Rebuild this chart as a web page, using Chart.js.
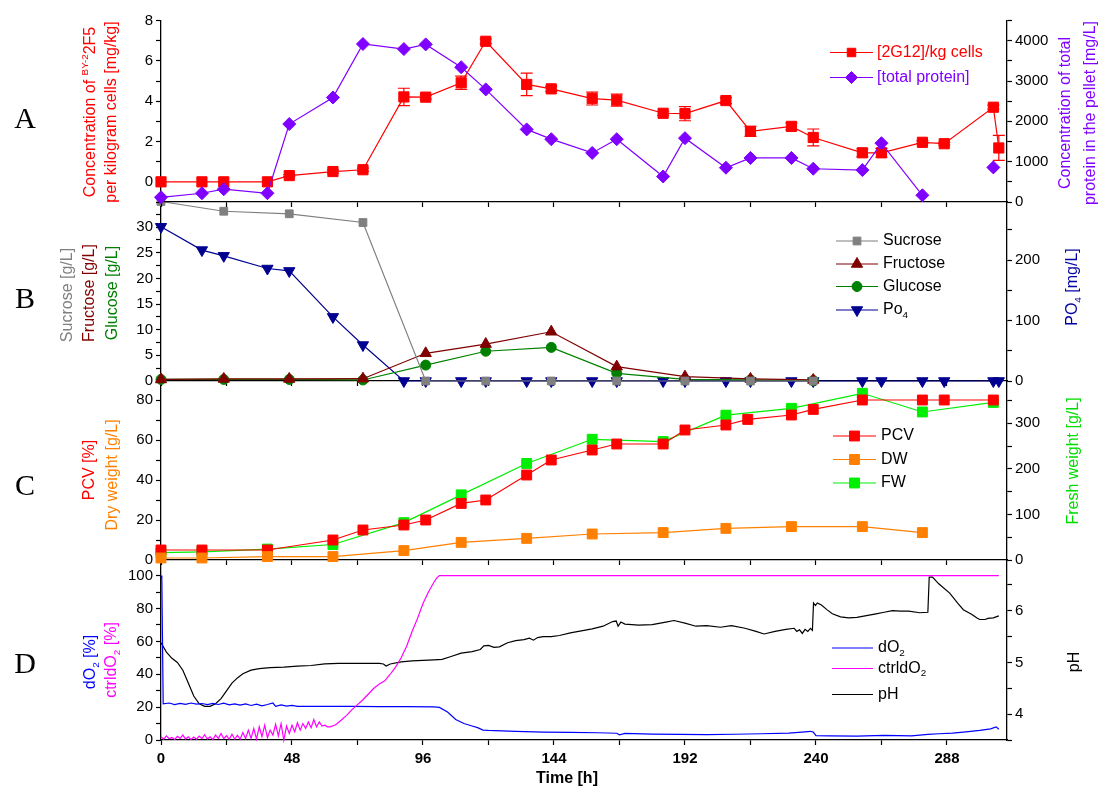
<!DOCTYPE html>
<html><head><meta charset="utf-8">
<script src="https://cdn.jsdelivr.net/npm/chart.js@4/dist/chart.umd.min.js"></script>
<style>
html,body{margin:0;padding:0;background:#fff;}
#wrap{position:relative;width:1101px;height:792px;overflow:hidden;}
#wrap canvas{position:absolute;left:0;top:0;}
</style></head><body>
<div id="wrap">
<canvas id="cD" width="1101" height="792"></canvas>
<canvas id="cC" width="1101" height="792"></canvas>
<canvas id="cB" width="1101" height="792"></canvas>
<canvas id="cA" width="1101" height="792"></canvas>
</div>
<script>
// ---------- Panel A data ----------
const tA = [0,15,23,39,47,63,74,89,97,110,119,134,143,158,167,184,192,207,216,231,239,257,264,279,287,305,307];
const g2f5 = [0,0,0,0,0.31,0.51,0.6,4.21,4.2,4.91,6.97,4.83,4.61,4.13,4.05,3.4,3.38,4.03,2.5,2.75,2.2,1.44,1.44,1.96,1.89,3.7,1.68];
const g2f5Err = [0,0,0,0,0.05,0.08,0.08,0.43,0.1,0.33,0.12,0.56,0.12,0.32,0.3,0.1,0.35,0.15,0.25,0.17,0.42,0.2,0.22,0.07,0.07,0.1,0.62];
const protein = [117,217,317,217,1933,2592,3917,3792,3908,3342,2792,1800,1558,1217,1558,633,1583,850,1092,1092,825,792,1458,167,null,858,null];
// ---------- Panel B data ----------
const tSugar = [0,23,47,74,97,119,143,167,192,216,239];
const sucrose = [35,33.1,32.6,30.9,0,0,0,0,0,0,0];
const fructose = [0.3,0.4,0.4,0.45,5.4,7.2,9.6,2.8,0.85,0.4,0.2];
const glucose = [0.3,0.3,0.3,0.2,3.1,5.8,6.55,1.5,0.3,0.2,0.1];
const tPO4 = [0,15,23,39,47,63,74,89,97,110,119,134,143,158,167,184,192,207,216,231,239,257,264,279,287,305,307];
const po4 = [255,216.5,207,186,182,106,59.5,0,0,0,0,0,0,0,0,0,0,0,0,0,0,0,0,0,0,0,0];
// ---------- Panel C data ----------
const tPCV = [0,15,39,63,74,89,97,110,119,134,143,158,167,184,192,207,215,231,239,257,279,287,305];
const pcv = [5,5,5,10,15,17.5,20,28.3,30,42.5,50,55,58,58,65,67.5,70.3,72.5,75.3,80,80,80,80];
const tDW = [0,15,39,63,89,110,134,158,184,207,231,257,279];
const dw = [1,1,1.7,1.7,4.7,8.8,10.8,13,13.7,15.8,16.7,16.7,13.7];
const tFW = [0,15,39,63,89,110,134,158,184,207,231,257,279,305];
const fw = [16,18,24,34,82,143,212,265,260,318,333,366,325,346];
// ---------- Panel D data ----------
const tDO2 = [0,0.3,0.8,3,5,7,9,11,13,15,17,19,21,23,25,27,29,31,33,35,37,39,41,42,44,46,48,50,55,60,70,80,90,100,102,105,108,111,114,116,118,120,130,140,150,160,167,168,170,180,190,200,210,220,230,236,238,239,240,245,255,265,275,281,285,290,295,300,304,306,307];
const dO2 = [100,98,22,22.5,21.5,22.3,21.7,22.5,21.8,22.2,21.5,22.3,21.6,22.4,21.4,22,21.2,22,21,21.8,20.8,21.6,22.5,20.5,21.3,20.6,21,20.5,20.4,20.5,20.4,20.3,20.3,20.2,19.8,17,12.5,10,8.5,7.5,6,5.8,5.2,4.8,4.6,4.4,4.1,3.2,4,3.6,3.4,3.3,3.5,3.8,4.2,5,5.3,4.8,2.7,2.5,2.4,2.8,2.5,3.4,3.8,4.2,5,5.8,6.8,8,6.5];
const tCtrl = [0,1,2,3,4,5,6,7,8,9,10,11,12,13,14,15,16,17,18,19,20,21,22,23,24,25,26,27,28,29,30,31,32,33,34,35,36,37,38,39,40,41,42,43,44,45,46,47,48,49,50,51,52,53,54,55,56,57,58,59,60,61,62,64,66,68,70,72,74,76,78,80,82,84,86,88,90,92,94,96,98,100,101,102,307];
const ctrlDO2 = [2,0.5,2.5,0.8,1.5,0.3,2.2,1,3,0.6,2,0.4,1.8,0.5,2.4,0.8,3.2,0.6,2,0.3,3,1,4,0.8,2.6,0.5,3.5,0.6,2.8,0.4,4.5,0.8,6,1,7,0.5,8,2,9,1.5,6,3,9.5,2.5,10,0,8.5,4,9,5,10.5,6,10,7,11,7.5,12.5,8,11,8.5,9,8,8,9.3,12,15,18.5,21.5,24.5,28,31.5,34,36,40,44.5,50,57,66,74,83,90,96,98.5,100,100];
const tPH = [0,2,4,6,8,10,12,14,16,18,20,22,24,26,28,30,33,36,40,45,50,55,60,65,70,75,80,81.5,82.5,84,88,92,96,100,103,106,110,114,117,118.3,120,122,124,127,130,133,135,136.5,138,140,143,146,150,154,158,162,165.5,166.8,167.5,168.5,170,175,180,185,188,192,196,200,205,209,214,218,221,225,229,232,233,234,235,236,237,238,238.7,239.1,239.8,240.5,242,244,246,249,252,255,258,262,265,268,271,274,278,281,281.5,282.7,285,289,292,294,297,299,300,302,303,305,307];
const pH = [5.38,5.2,5.08,5.0,4.85,4.6,4.35,4.2,4.15,4.15,4.2,4.3,4.45,4.6,4.7,4.78,4.85,4.88,4.9,4.91,4.93,4.94,4.97,4.98,4.98,4.98,4.98,4.97,4.93,4.97,5.01,5.03,5.04,5.05,5.06,5.11,5.18,5.21,5.25,5.32,5.33,5.29,5.3,5.38,5.42,5.44,5.47,5.43,5.48,5.5,5.5,5.52,5.57,5.61,5.65,5.7,5.79,5.8,5.7,5.78,5.74,5.72,5.73,5.78,5.81,5.76,5.7,5.71,5.68,5.71,5.66,5.6,5.55,5.6,5.64,5.66,5.6,5.63,5.56,5.64,5.6,5.66,5.62,6.15,6.1,6.15,6.11,6.02,5.94,5.88,5.86,5.87,5.9,5.94,5.97,6.0,5.99,5.99,5.96,5.97,6.65,6.65,6.52,6.34,6.14,6.02,5.93,5.86,5.83,5.83,5.85,5.86,5.9];
// ---------- Axis tick label values ----------
const xTickLabels = [0,48,96,144,192,240,288];

const FONT = "'Liberation Sans', Arial, sans-serif";
const SERIF = "'Liberation Serif', 'Times New Roman', serif";

function pts(t, v){ return t.map((x,i)=>({x:x, y:v[i]})); }

function yScale(pos, min, max, step, labelOk, width){
  return {type:'linear', position:pos, min:min, max:max,
    ticks:{stepSize:step, includeBounds:false, autoSkip:false, color:'#000', padding:3,
      font:{family:FONT, size:15}, callback:(v)=> labelOk(v) ? String(v) : ''},
    grid:{drawOnChartArea:false, drawTicks:true, tickLength:5, color:'#000', tickWidth:1.2},
    border:{display:true, color:'#000', width:1.3},
    afterFit:(s)=>{ s.width = width; }
  };
}
function xScale(showLabels, height){
  return {type:'linear', position:'bottom', min:0, max:310,
    ticks:{stepSize:24, includeBounds:false, autoSkip:false, display:showLabels, maxRotation:0, color:'#000', padding:5,
      font:{family:FONT, size:15, weight:'bold'}, callback:(v)=> xTickLabels.includes(v) ? String(v) : ''},
    grid:{drawOnChartArea:false, drawTicks:true, tickLength:5, color:'#000', tickWidth:1.2},
    border:{display:true, color:'#000', width:1.3},
    afterFit:(s)=>{ s.height = height; }
  };
}
function ds(label, data, color, axis, style, radius, extra){
  return Object.assign({label:label, data:data, yAxisID:axis, borderColor:color, backgroundColor:color,
    borderWidth:1.2, tension:0, fill:false, clip:false, spanGaps:false,
    pointStyle:style, pointRadius:radius, pointHoverRadius:radius, pointBackgroundColor:color,
    pointBorderColor:color, pointBorderWidth:1}, extra||{});
}

function drawRich(ctx, segs, cx, cy, rot, size, color){
  ctx.save();
  ctx.translate(cx, cy);
  ctx.rotate(rot);
  ctx.textBaseline = 'middle'; ctx.textAlign = 'left';
  const fnt = (s)=> ((s.sup||s.sub) ? (size*0.62).toFixed(1) : size) + 'px ' + (s.family||FONT);
  let total = 0;
  segs.forEach(s=>{ ctx.font = fnt(s); total += ctx.measureText(s.t).width; });
  let x = -total/2;
  segs.forEach(s=>{
    ctx.font = fnt(s);
    ctx.fillStyle = s.c || color;
    const dy = s.sup ? -size*0.38 : (s.sub ? size*0.3 : 0);
    ctx.fillText(s.t, x, dy);
    x += ctx.measureText(s.t).width;
  });
  ctx.restore();
}
function drawLeftRich(ctx, segs, x, y, size, color){
  ctx.save();
  ctx.textBaseline = 'middle'; ctx.textAlign = 'left';
  let cx = x;
  segs.forEach(s=>{
    const fs = (s.sup||s.sub) ? size*0.62 : size;
    ctx.font = fs.toFixed(1) + 'px ' + FONT;
    ctx.fillStyle = s.c || color;
    const dy = s.sup ? -size*0.38 : (s.sub ? size*0.3 : 0);
    ctx.fillText(s.t, cx, y + dy);
    cx += ctx.measureText(s.t).width;
  });
  ctx.restore();
}
function drawMarker(ctx, style, radius, rotation, color, x, y){
  ctx.save();
  ctx.fillStyle = color; ctx.strokeStyle = color; ctx.lineWidth = 1;
  if (Chart.helpers && Chart.helpers.drawPoint){
    Chart.helpers.drawPoint(ctx, {pointStyle:style, radius:radius, rotation:rotation||0, borderWidth:1}, x, y);
  }
  ctx.restore();
}
function drawLegend(ctx, items, x1, x2, xt, size){
  items.forEach(it=>{
    ctx.save();
    ctx.strokeStyle = it.color; ctx.lineWidth = 1.2;
    ctx.beginPath(); ctx.moveTo(x1, it.y); ctx.lineTo(x2, it.y); ctx.stroke();
    ctx.restore();
    if (it.style) drawMarker(ctx, it.style, it.radius, it.rot, it.color, (x1+x2)/2, it.y);
    drawLeftRich(ctx, it.text, xt, it.y, size, it.tc || '#000');
  });
}
function letter(ctx, L, y){
  ctx.save(); ctx.font = '30px ' + SERIF; ctx.fillStyle = '#000';
  ctx.textAlign = 'center'; ctx.textBaseline = 'middle'; ctx.fillText(L, 25, y); ctx.restore();
}
const UP = -Math.PI/2;
const baseOpts = (pad)=>({responsive:false, animation:false, events:[], devicePixelRatio:1,
  layout:{padding:pad}, plugins:{legend:{display:false}, tooltip:{enabled:false}}});

// ---------- Panel A ----------
new Chart(document.getElementById('cA'), {
  type:'line',
  data:{datasets:[
    ds('[total protein]', pts(tA, protein), '#8000ff', 'yr', 'rectRot', 6.5),
    ds('[2G12]/kg cells', pts(tA, g2f5), '#ff0000', 'yl', 'rect', 7.2)
  ]},
  options:Object.assign(baseOpts({left:116, right:44, top:20.5, bottom:580}), {scales:{
    x:xScale(false, 10),
    yl:yScale('left', -1, 8, 1, v=> v>=0 && v%2===0, 45),
    yr:yScale('right', 0, 4500, 500, v=> v%1000===0, 50)
  }}),
  plugins:[{id:'decoA',
    beforeDatasetsDraw(chart){
      const ctx = chart.ctx, xs = chart.scales.x, ys = chart.scales.yl;
      ctx.save(); ctx.strokeStyle = '#ff0000'; ctx.lineWidth = 1.2;
      tA.forEach((t,i)=>{
        const e = g2f5Err[i]; if (!e) return;
        const x = xs.getPixelForValue(t), y1 = ys.getPixelForValue(g2f5[i]+e), y2 = ys.getPixelForValue(g2f5[i]-e);
        ctx.beginPath();
        ctx.moveTo(x, y1); ctx.lineTo(x, y2);
        ctx.moveTo(x-6, y1); ctx.lineTo(x+6, y1);
        ctx.moveTo(x-6, y2); ctx.lineTo(x+6, y2);
        ctx.stroke();
      });
      ctx.restore();
    },
    afterDraw(chart){
      const ctx = chart.ctx;
      letter(ctx, 'A', 120);
      drawRich(ctx, [{t:'Concentration of '},{t:'BY-2', sup:true},{t:'2F5'}], 91, 112, UP, 16, '#ff0000');
      drawRich(ctx, [{t:'per kilogram cells [mg/kg]'}], 112, 112, UP, 16, '#ff0000');
      drawRich(ctx, [{t:'Concentration of total'}], 1066, 113, UP, 16, '#8000ff');
      drawRich(ctx, [{t:'protein in the pellet [mg/L]'}], 1091, 113, UP, 16, '#8000ff');
      drawLegend(ctx, [
        {y:52.5, color:'#ff0000', style:'rect', radius:6, text:[{t:'[2G12]/kg cells'}], tc:'#ff0000'},
        {y:77.5, color:'#8000ff', style:'rectRot', radius:6, text:[{t:'[total protein]'}], tc:'#8000ff'}
      ], 830, 873, 877, 16);
    }
  }]
});

// ---------- Panel B ----------
new Chart(document.getElementById('cB'), {
  type:'line',
  data:{datasets:[
    ds('Sucrose', pts(tSugar, sucrose), '#808080', 'yl', 'rect', 5.5),
    ds('Fructose', pts(tSugar, fructose), '#800000', 'yl', 'triangle', 6.5),
    ds('Glucose', pts(tSugar, glucose), '#008000', 'yl', 'circle', 5),
    ds('Po4', pts(tPO4, po4), '#000090', 'yr', 'triangle', 6.5, {pointRotation:180})
  ]},
  options:Object.assign(baseOpts({left:116, right:44, top:202, bottom:401}), {scales:{
    x:xScale(false, 10),
    yl:yScale('left', 0, 34.9, 2.5, v=> v%5===0 && v<=30, 45),
    yr:yScale('right', 0, 296, 50, v=> v%100===0, 50)
  }}),
  plugins:[{id:'decoB',
    afterDraw(chart){
      const ctx = chart.ctx;
      letter(ctx, 'B', 300);
      drawRich(ctx, [{t:'Sucrose [g/L]'}], 68, 295, UP, 16, '#808080');
      drawRich(ctx, [{t:'Fructose [g/L]'}], 90, 293, UP, 16, '#800000');
      drawRich(ctx, [{t:'Glucose [g/L]'}], 113, 293, UP, 16, '#008000');
      drawRich(ctx, [{t:'PO'},{t:'4', sub:true},{t:' [mg/L]'}], 1073, 287, UP, 16, '#0000a0');
      drawLegend(ctx, [
        {y:241, color:'#808080', style:'rect', radius:5.5, text:[{t:'Sucrose'}]},
        {y:264, color:'#800000', style:'triangle', radius:6.5, text:[{t:'Fructose'}]},
        {y:286.5, color:'#008000', style:'circle', radius:5, text:[{t:'Glucose'}]},
        {y:310, color:'#000090', style:'triangle', radius:6.5, rot:180, text:[{t:'Po'},{t:'4', sub:true}]}
      ], 836, 878, 883, 16);
    }
  }]
});

// ---------- Panel C ----------
new Chart(document.getElementById('cC'), {
  type:'line',
  data:{datasets:[
    ds('DW', pts(tDW, dw), '#ff8000', 'yl', 'rect', 7),
    ds('PCV', pts(tPCV, pcv), '#ff0000', 'yl', 'rect', 7),
    ds('FW', pts(tFW, fw), '#00ee00', 'yr', 'rect', 7)
  ]},
  options:Object.assign(baseOpts({left:116, right:44, top:381, bottom:222}), {scales:{
    x:xScale(false, 10),
    yl:yScale('left', 0, 89.5, 10, v=> v%20===0, 45),
    yr:yScale('right', 0, 393, 50, v=> v%100===0, 50)
  }}),
  plugins:[{id:'decoC',
    afterDraw(chart){
      const ctx = chart.ctx;
      letter(ctx, 'C', 487);
      drawRich(ctx, [{t:'PCV [%]'}], 90, 470, UP, 16, '#ff0000');
      drawRich(ctx, [{t:'Dry weight [g/L]'}], 113, 475, UP, 16, '#ff8000');
      drawRich(ctx, [{t:'Fresh weight [g/L]'}], 1074, 461, UP, 16, '#00dd00');
      drawLegend(ctx, [
        {y:436, color:'#ff0000', style:'rect', radius:7, text:[{t:'PCV'}]},
        {y:459.5, color:'#ff8000', style:'rect', radius:7, text:[{t:'DW'}]},
        {y:483, color:'#00ee00', style:'rect', radius:7, text:[{t:'FW'}]}
      ], 833, 876, 881, 16);
    }
  }]
});

// ---------- Panel D ----------
new Chart(document.getElementById('cD'), {
  type:'line',
  data:{datasets:[
    ds('ctrldO2', pts(tCtrl, ctrlDO2), '#ff00ff', 'yl', 'circle', 0),
    ds('dO2', pts(tDO2, dO2), '#0000ff', 'yl', 'circle', 0),
    ds('pH', pts(tPH, pH), '#000000', 'yr', 'circle', 0)
  ]},
  options:Object.assign(baseOpts({left:116, right:44, top:560, bottom:0}), {scales:{
    x:xScale(true, 52),
    yl:yScale('left', 0, 109.5, 10, v=> v%20===0, 45),
    yr:yScale('right', 3.5, 6.98, 0.5, v=> Math.abs(v-Math.round(v))<1e-9, 50)
  }}),
  plugins:[{id:'decoD',
    afterDraw(chart){
      const ctx = chart.ctx;
      letter(ctx, 'D', 665);
      drawRich(ctx, [{t:'dO'},{t:'2', sub:true},{t:' [%]'}], 91, 662, UP, 16, '#0000ff');
      drawRich(ctx, [{t:'ctrldO'},{t:'2', sub:true},{t:' [%]'}], 112, 660, UP, 16, '#ff00ff');
      drawRich(ctx, [{t:'pH'}], 1075, 662, UP, 16, '#000');
      ctx.save(); ctx.font = 'bold 16px ' + FONT; ctx.fillStyle = '#000';
      ctx.textAlign = 'center'; ctx.textBaseline = 'middle';
      ctx.fillText('Time [h]', 567, 779); ctx.restore();
      drawLegend(ctx, [
        {y:648, color:'#0000ff', text:[{t:'dO'},{t:'2', sub:true}]},
        {y:668.5, color:'#ff00ff', text:[{t:'ctrldO'},{t:'2', sub:true}]},
        {y:694.5, color:'#000000', text:[{t:'pH'}]}
      ], 832, 873, 878, 16);
    }
  }]
});
</script>
</body></html>
